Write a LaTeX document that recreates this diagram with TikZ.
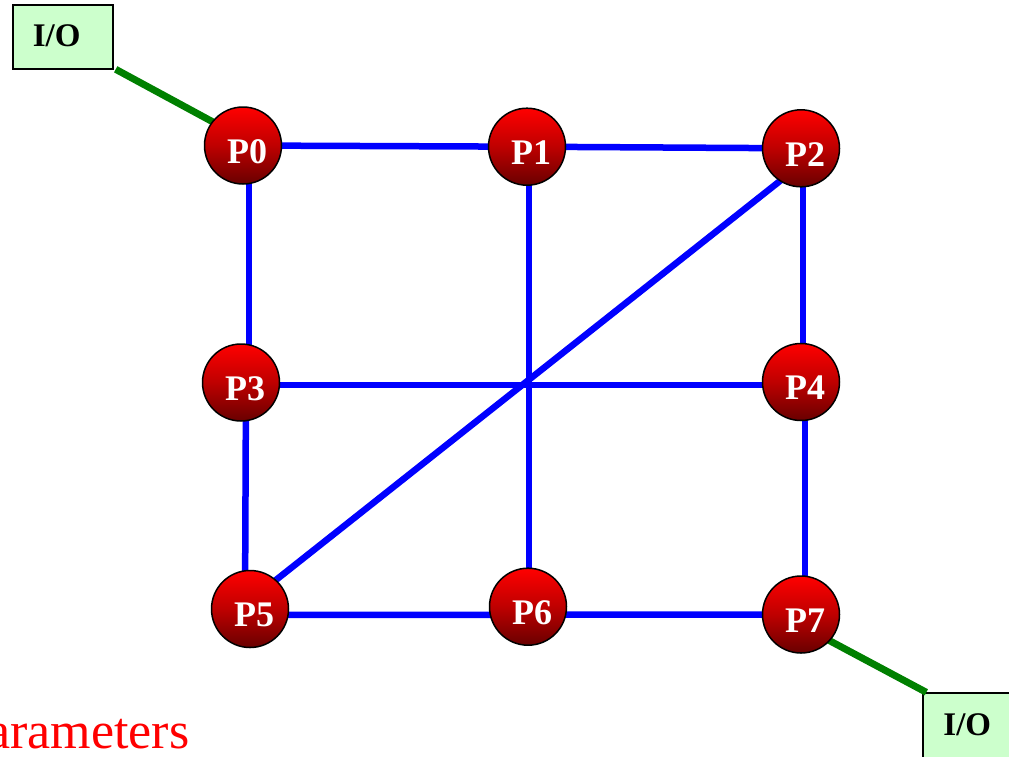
\documentclass[tikz,border=0pt]{standalone}
\usepackage{fontspec}
\setmainfont{Liberation Serif}
\begin{document}
\begin{tikzpicture}[x=1pt,y=-1pt,
  proc/.style={circle, draw=black, line width=1.5pt, minimum size=77pt, inner sep=0pt,
    top color={rgb,255:red,255;green,0;blue,0}, bottom color={rgb,255:red,105;green,0;blue,0},
    middle color={rgb,255:red,190;green,0;blue,0}},
  plabel/.style={font=\bfseries\fontsize{36}{36}\selectfont, text=white, xshift=4pt, yshift=-6pt},
  iobox/.style={rectangle, draw=black, line width=2pt, fill={rgb,255:red,204;green,255;blue,204},
    minimum width=100pt, minimum height=64.6pt, inner sep=0pt, outer sep=0pt},
  iolabel/.style={font=\bfseries\fontsize{33}{33}\selectfont, text=black, xshift=-6pt, yshift=1.2pt},
  link/.style={draw={rgb,255:red,0;green,0;blue,255}, line width=6.5pt},
  iolink/.style={draw={rgb,255:red,0;green,128;blue,0}, line width=7pt}
]
\useasboundingbox (0,0) rectangle (1009,756);

% processor positions
\path (243,145.5) coordinate (c0) (527,146.7) coordinate (c1) (801,148.3) coordinate (c2)
      (241,382.5) coordinate (c3) (801,382) coordinate (c4)
      (250,609) coordinate (c5) (528,606.7) coordinate (c6) (801,614.5) coordinate (c7);

\node[iobox, label={[iolabel]center:I/O}] (io1) at (62.7,37) {};
\node[iobox, label={[iolabel]center:I/O}] (io2) at (973.3,725.6) {};

% links
\draw[link] (c0) -- (c1);
\draw[link] (c1) -- (c2);
\draw[link] ([xshift=6pt]c0) -- ([xshift=8pt]c3);
\draw[link] ([xshift=5pt]c3) -- ([xshift=-5pt]c5);
\draw[link] ([xshift=2pt]c1) -- ([xshift=1pt]c6);
\draw[link] ([xshift=2pt]c2) -- ([xshift=2pt]c4);
\draw[link] ([xshift=4pt]c4) -- ([xshift=4pt]c7);
\draw[link] ([yshift=-2.5pt]c3) -- ([yshift=-3pt]c4);
\draw[link] ([yshift=-6pt]c5) -- ([yshift=-8pt]c6);
\draw[link] ([yshift=-8pt]c6) -- (c7);
\draw[link] ([xshift=-6pt,yshift=-20.8pt]c2) -- ([xshift=12pt,yshift=18pt]c5);

% I/O links
\draw[iolink] ([xshift=3pt]io1.south east) -- ([xshift=-8pt,yshift=11.6pt]c0);
\draw[iolink] ([xshift=14pt,yshift=-18.4pt]c7) -- ([xshift=3pt,yshift=1pt]io2.north west);

% processors
\foreach \i in {0,...,7}{
  \node[proc, label={[plabel]center:P\i}] (P\i) at (c\i) {};
}

% cut-off text
\node[anchor=base west, inner sep=0pt, text={rgb,255:red,255;green,0;blue,0},
  font=\fontsize{52}{52}\selectfont] (par) at (-13,748) {arameters};
\end{tikzpicture}
\end{document}
